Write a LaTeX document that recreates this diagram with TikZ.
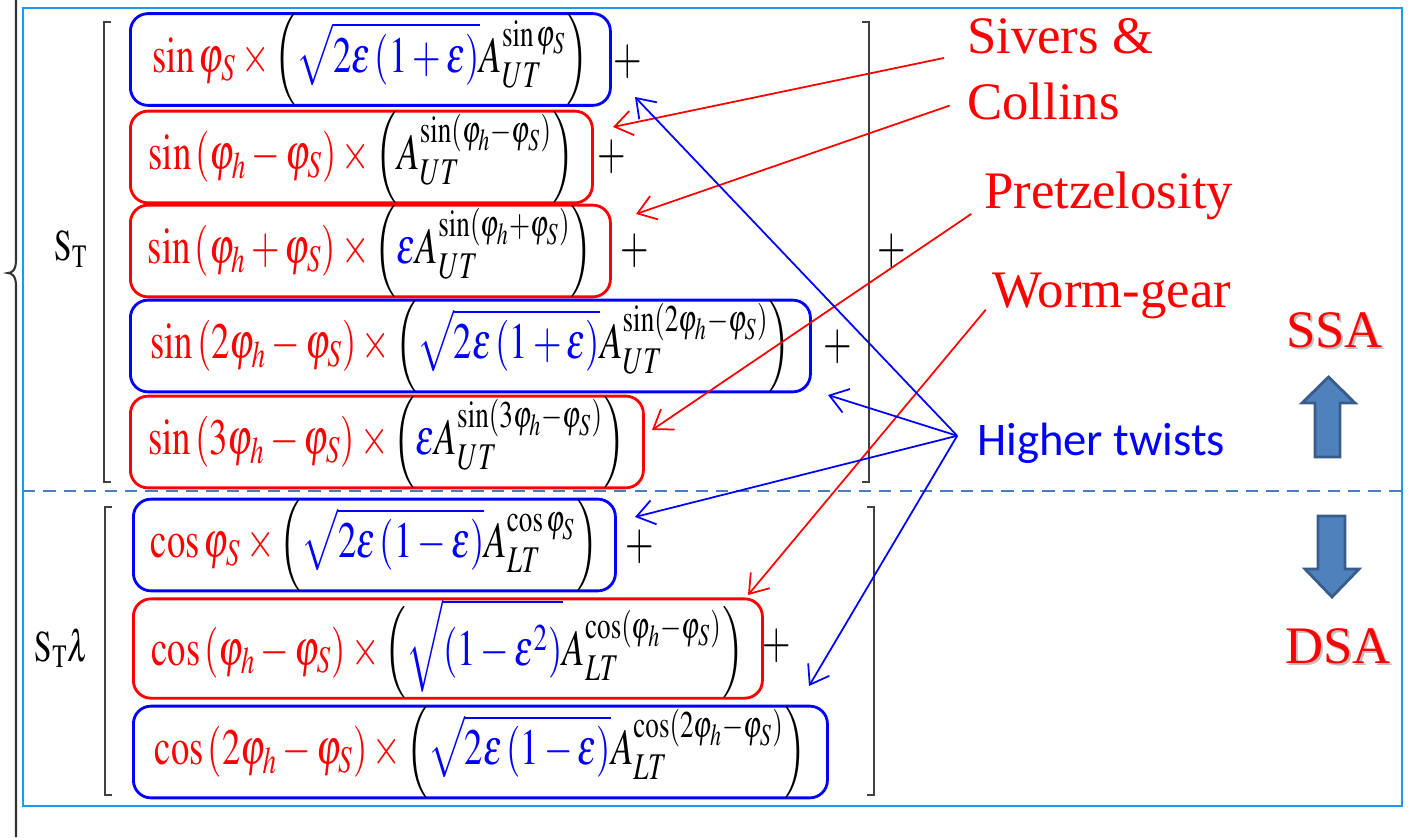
\documentclass[tikz,border=0pt]{standalone}
\usepackage{mathptmx}
\usepackage{fontspec}
\setmainfont{Liberation Serif}
\newfontfamily\twistfont{Carlito}
\usepackage{graphicx}
\usepackage{tikz}
\usetikzlibrary{arrows.meta,positioning,calc}
\definecolor{framecol}{HTML}{1E9BE8}
\definecolor{dashcol}{HTML}{4A7EBB}
\definecolor{fatfill}{HTML}{4F81BD}
\definecolor{fatedge}{HTML}{385D8A}
\newcommand{\eqsize}{\fontsize{14.5}{17}\selectfont}
\newcommand{\squeeze}[1]{\scalebox{0.72}[1]{$\displaystyle #1$}}
\newcommand{\rd}{\color{red}}
\newcommand{\bl}{\color{blue}}
\newcommand{\bk}{\color{black}}

\begin{document}
\begin{tikzpicture}[x=1cm,y=-1cm,
  term/.style={draw,rounded corners=5pt,line width=.8pt,anchor=west,inner xsep=3pt,inner ysep=0pt,font=\eqsize},
  redterm/.style={term,draw=red},
  blueterm/.style={term,draw=blue},
  plus/.style={font=\eqsize,inner sep=0pt},
  tag/.style={red,font=\fontsize{15}{18}\selectfont,inner sep=1pt,anchor=base west},
  redline/.style={red,line width=.5pt,-{Straight Barb[length=5pt,width=7pt]}},
  blueline/.style={blue,line width=.5pt,-{Straight Barb[length=5pt,width=7pt]}},
  brack/.style={black!75,line width=.6pt}]
\useasboundingbox (0,0) rectangle (14.09,8.37);

% frame, separator and the cut brace on the left
\draw[framecol,line width=.8pt] (0.23,0.08) rectangle (14.02,8.06);
\draw[dashcol,line width=.7pt,dash pattern=on 3.5pt off 2.3pt] (0.23,4.91) -- (14.02,4.91);
\draw[black!80,line width=.6pt] (0.16,0) -- (0.16,2.60) .. controls (0.16,2.70) and (0.12,2.73) .. (0.08,2.73)
  .. controls (0.12,2.73) and (0.16,2.76) .. (0.16,2.86) -- (0.16,8.37);

% brackets
\foreach \xl/\xr/\ya/\yb in {1.04/8.69/0.22/4.82,1.05/8.74/5.07/7.95}{
  \draw[brack] (\xl+.07,\ya) -- (\xl,\ya) -- (\xl,\yb) -- (\xl+.07,\yb);
  \draw[brack] (\xr-.07,\ya) -- (\xr,\ya) -- (\xr,\yb) -- (\xr-.07,\yb);}

% SSA terms
\node[blueterm,minimum width=4.80cm,minimum height=.87cm] (s1) at (1.29,0.595)
  {\squeeze{\rd\sin\varphi_S\times\bk\Bigl(\bl\sqrt{2\varepsilon\left(1+\varepsilon\right)}\bk A_{UT}^{\sin\varphi_S}\Bigr)}};
\node[redterm,minimum width=4.62cm,minimum height=.84cm] (s2) at (1.29,1.57)
  {\squeeze{\rd\sin\left(\varphi_h-\varphi_S\right)\times\bk\Bigl(A_{UT}^{\sin\left(\varphi_h-\varphi_S\right)}\Bigr)}};
\node[redterm,minimum width=4.80cm,minimum height=.84cm] (s3) at (1.29,2.51)
  {\squeeze{\rd\sin\left(\varphi_h+\varphi_S\right)\times\bk\Bigl(\bl\varepsilon\bk A_{UT}^{\sin\left(\varphi_h+\varphi_S\right)}\Bigr)}};
\node[blueterm,minimum width=6.80cm,minimum height=.88cm] (s4) at (1.29,3.46)
  {\squeeze{\rd\sin\left(2\varphi_h-\varphi_S\right)\times\bk\Bigl(\bl\sqrt{2\varepsilon\left(1+\varepsilon\right)}\bk A_{UT}^{\sin\left(2\varphi_h-\varphi_S\right)}\Bigr)}};
\node[redterm,minimum width=5.13cm,minimum height=.82cm] (s5) at (1.29,4.42)
  {\squeeze{\rd\sin\left(3\varphi_h-\varphi_S\right)\times\bk\Bigl(\bl\varepsilon\bk A_{UT}^{\sin\left(3\varphi_h-\varphi_S\right)}\Bigr)}};

% DSA terms
\node[blueterm,minimum width=4.82cm,minimum height=.86cm] (c1) at (1.32,5.45)
  {\squeeze{\rd\cos\varphi_S\times\bk\Bigl(\bl\sqrt{2\varepsilon\left(1-\varepsilon\right)}\bk A_{LT}^{\cos\varphi_S}\Bigr)}};
\node[redterm,minimum width=6.29cm,minimum height=.97cm] (c2) at (1.32,6.485)
  {\squeeze{\rd\cos\left(\varphi_h-\varphi_S\right)\times\bk\Bigl(\bl\sqrt{\left(1-\varepsilon^2\right)}\bk A_{LT}^{\cos\left(\varphi_h-\varphi_S\right)}\Bigr)}};
\node[blueterm,minimum width=6.94cm,minimum height=.88cm] (c3) at (1.32,7.52)
  {\squeeze{\rd\cos\left(2\varphi_h-\varphi_S\right)\times\bk\Bigl(\bl\sqrt{2\varepsilon\left(1-\varepsilon\right)}\bk A_{LT}^{\cos\left(2\varphi_h-\varphi_S\right)}\Bigr)}};

% plus signs and prefactors
\foreach \n/\x/\y in {p1/6.28/0.62,p2/6.12/1.57,p3/6.35/2.51,p4/8.38/3.47,p5/8.92/2.51,p6/6.40/5.47,p7/7.77/6.46}
  \node[plus] (\n) at (\x,\y) {\squeeze{+}};
\node[font=\fontsize{12.5}{15}\selectfont] (st) at (0.71,2.49) {\squeeze{\mathrm{S}_\mathrm{T}}};
\node[font=\fontsize{12.5}{15}\selectfont] (stl) at (0.62,6.48) {\squeeze{\mathrm{S}_\mathrm{T}\lambda}};

% labels
\node[tag] (sivers) at (9.63,0.54) {Sivers \&};
\node[tag] (collins) at (9.63,1.19) {Collins};
\node[tag] (pretz) at (9.80,2.08) {Pretzelosity};
\node[tag] (worm) at (9.88,3.07) {Worm-gear};
\node[blue,font=\twistfont\fontsize{13.3}{16}\selectfont,anchor=base west,inner sep=1pt] (twists) at (9.73,4.55) {Higher twists};
\node[tag,black!25] (ssashade) at (12.84,3.49) {SSA};
\node[tag] (ssa) at (12.82,3.47) {SSA};
\node[tag,black!25] (dsashade) at (12.83,6.65) {DSA};
\node[tag] (dsa) at (12.81,6.63) {DSA};

% fat arrows
\draw[fatedge,fill=fatfill,line width=.8pt] (13.15,4.57) -- (13.15,4.03) -- (13.02,4.03) -- (13.285,3.77)
  -- (13.55,4.03) -- (13.40,4.03) -- (13.40,4.57) -- cycle;
\draw[fatedge,fill=fatfill,line width=.8pt] (13.18,5.16) -- (13.18,5.69) -- (13.05,5.69) -- (13.32,5.97)
  -- (13.59,5.69) -- (13.45,5.69) -- (13.45,5.16) -- cycle;

% pointers
\coordinate (t1) at (6.35,0.97);
\coordinate (t2) at (6.13,1.27);
\coordinate (t3) at (6.36,2.14);
\coordinate (t4) at (8.28,3.95);
\coordinate (t5) at (6.52,4.30);
\coordinate (t6) at (6.35,5.17);
\coordinate (t7) at (7.48,5.95);
\coordinate (t8) at (8.09,6.86);
\coordinate (hub) at ([xshift=-4.5pt,yshift=2pt]twists.west);
\draw[redline,shorten <=5.5pt] (sivers.base west) -- (t2);
\draw[redline,shorten <=4pt] (collins.west) -- (t3);
\draw[redline,shorten <=3pt] (pretz.base west) -- (t5);
\draw[redline,shorten <=1pt] (worm.base west) -- (t7);
\foreach \t in {t1,t4,t6,t8}
  \draw[blueline] (hub) -- (\t);
\end{tikzpicture}
\end{document}
